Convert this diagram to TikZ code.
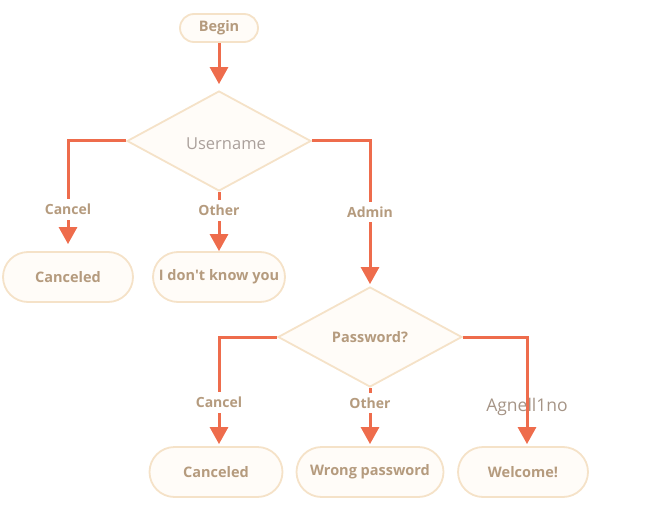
\documentclass[tikz,border=0pt]{standalone}
\usepackage{fontspec}
\setmainfont{Open Sans}
\usetikzlibrary{shapes.geometric,arrows.meta}
\definecolor{flowline}{RGB}{238,108,76}
\definecolor{boxline}{RGB}{245,226,200}
\definecolor{boxfill}{RGB}{255,252,248}
\definecolor{boxtext}{RGB}{181,155,126}
\definecolor{softtext}{RGB}{170,160,155}
\definecolor{keytext}{RGB}{165,148,134}

\begin{document}
\begin{tikzpicture}[x=1pt,y=-1pt,
  term/.style={draw=boxline, fill=boxfill, line width=1.8pt, rounded corners=25pt,
    minimum height=50pt, inner sep=0pt, text=boxtext, font=\bfseries\fontsize{14.5}{17}\selectfont},
  choice/.style={diamond, draw=boxline, fill=boxfill, line width=1.8pt,
    minimum width=184pt, minimum height=100pt, inner sep=0pt},
  flow/.style={draw=flowline, line width=3pt, -{Triangle[width=18pt,length=17pt]}, shorten >=2pt},
  lbl/.style={fill=white, inner xsep=2pt, inner ysep=5pt, text=boxtext, font=\bfseries\fontsize{14}{16}\selectfont}]
\useasboundingbox (0,0) rectangle (645,508);

% start and first question
\node[term, rounded corners=14pt, minimum width=78pt, minimum height=28pt] (begin) at (219,28) {Begin};
\node[choice, label={[text=softtext, font=\fontsize{16.5}{19}\selectfont, xshift=7pt, yshift=-3pt]center:Username}]
  (user) at (219,141) {};

% answers to the username
\node[term, minimum width=130pt] (cancelA) at (68,277) {Canceled};
\node[term, minimum width=132pt] (unknown) at (219,277) {I don\textquotesingle t know you};

% second question
\node[choice, text=boxtext, font=\bfseries\fontsize{14.5}{17}\selectfont] (pass) at (370,337) {Password?};

% answers to the password
\node[term, minimum width=133pt] (cancelB) at (216,472) {Canceled};
\node[term, minimum width=147pt] (wrong) at (370,472) {Wrong password};
\node[term, minimum width=130pt] (welcome) at (523,472) {Welcome!};

% connectors
\draw[flow, shorten >=6pt] (begin) -- (user);
\draw[flow, shorten >=7pt] (user.west) -| node[lbl, pos=0.81] {Cancel} (cancelA.north);
\draw[flow, shorten >=0pt] (user.south) -- node[lbl, pos=0.31] {Other} (unknown.north);
\draw[flow] (user.east) -| node[lbl, pos=0.745] {Admin} (pass.north);
\draw[flow] (pass.west) -| node[lbl, pos=0.80] {Cancel} ([xshift=3pt]cancelB.north);
\draw[flow] (pass.south) -- node[lbl, pos=0.26] {Other} (wrong.north);
\draw[flow] (pass.east) -| node[pos=0.82, text=keytext, font=\fontsize{17.5}{20}\selectfont] {Agnell1no} ([xshift=4pt]welcome.north);
\end{tikzpicture}
\end{document}
